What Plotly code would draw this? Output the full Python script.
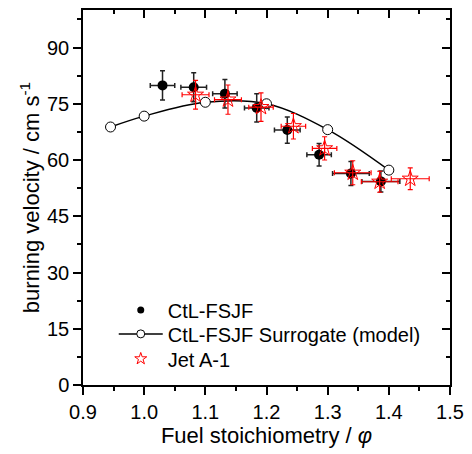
import plotly.graph_objects as go

# Data
phi_model = [0.945, 1.0, 1.1, 1.2, 1.3, 1.4]
v_model = [68.8, 71.7, 75.4, 75.0, 68.1, 57.3]

phi_ctl = [1.030, 1.081, 1.132, 1.184, 1.234, 1.286, 1.338, 1.387]
v_ctl = [79.9, 79.4, 77.7, 73.9, 68.0, 61.4, 56.4, 54.3]
ex_ctl = [0.02, 0.021, 0.02, 0.02, 0.021, 0.02, 0.03, 0.031]
ey_ctl = [3.9, 3.85, 3.8, 3.8, 3.5, 3.0, 3.2, 2.8]

phi_jet = [1.084, 1.137, 1.191, 1.244, 1.295, 1.341, 1.385, 1.435]
v_jet = [77.4, 76.1, 74.1, 69.0, 63.1, 56.6, 54.2, 55.0]
ex_jet = [0.022, 0.022, 0.02, 0.02, 0.02, 0.03, 0.03, 0.031]
ey_jet = [3.85, 3.9, 3.8, 3.4, 3.1, 3.2, 2.8, 2.9]

y_ticks = [0, 15, 30, 45, 60, 75, 90]
x_ticks = [0.9, 1.0, 1.1, 1.2, 1.3, 1.4, 1.5]

FONT = "Liberation Sans, Arial, sans-serif"

fig = go.Figure()

# model line with open circles
fig.add_trace(go.Scatter(
    x=phi_model, y=v_model, mode="lines+markers",
    line=dict(color="black", width=1.5, shape="spline", smoothing=1),
    marker=dict(symbol="circle", size=10, color="white", line=dict(color="black", width=1)),
    showlegend=False))

# CtL-FSJF measured
fig.add_trace(go.Scatter(
    x=phi_ctl, y=v_ctl, mode="markers",
    marker=dict(symbol="circle", size=10, color="black"),
    error_x=dict(type="data", array=ex_ctl, color="#222222", thickness=1.5, width=2.5),
    error_y=dict(type="data", array=ey_ctl, color="#222222", thickness=1.5, width=2.5),
    showlegend=False))

# Jet A-1
fig.add_trace(go.Scatter(
    x=phi_jet, y=v_jet, mode="markers",
    marker=dict(symbol="star-open", size=12, color="red", line=dict(color="red", width=1)),
    error_x=dict(type="data", array=ex_jet, color="red", thickness=1.2, width=2.5),
    error_y=dict(type="data", array=ey_jet, color="red", thickness=1.2, width=2.5),
    showlegend=False))

# legend entries (each in its own legend box for exact row spacing)
fig.add_trace(go.Scatter(x=[None], y=[None], mode="markers", name="CtL-FSJF", legend="legend",
                         marker=dict(symbol="circle", size=7, color="black")))
fig.add_trace(go.Scatter(x=[None], y=[None], mode="lines+markers", name="CtL-FSJF Surrogate (model)",
                         legend="legend2",
                         line=dict(color="black", width=1.5),
                         marker=dict(symbol="circle", size=8, color="white", line=dict(color="black", width=1))))
fig.add_trace(go.Scatter(x=[None], y=[None], mode="markers", name="Jet A-1", legend="legend3",
                         marker=dict(symbol="star-open", size=9, color="red", line=dict(color="red", width=1))))

# dummy trace for mirrored inner-tick axes
fig.add_trace(go.Scatter(x=[None], y=[None], xaxis="x2", yaxis="y2", showlegend=False, hoverinfo="skip"))

axis_common = dict(showgrid=False, zeroline=False, linecolor="black", linewidth=1.5,
                   tickcolor="black", tickwidth=1.5,
                   tickfont=dict(family=FONT, size=20, color="black"))

PLOT_TOP, PLOT_BOT, PLOT_L, PLOT_W = 8, 385, 83, 370
PLOT_H = PLOT_BOT - PLOT_TOP


def leg(row_center):
    return dict(x=(114 - PLOT_L) / PLOT_W, y=(PLOT_BOT - (row_center - 21)) / PLOT_H,
                xanchor="left", yanchor="top", bgcolor="rgba(0,0,0,0)", borderwidth=0,
                itemwidth=44, font=dict(family=FONT, size=20, color="black"))


fig.update_layout(
    width=472, height=454,
    margin=dict(l=PLOT_L, r=19, t=PLOT_TOP, b=454 - PLOT_BOT),
    plot_bgcolor="white", paper_bgcolor="white",
    font=dict(family=FONT, size=20, color="black"),
    xaxis=dict(range=[0.9, 1.5], tickvals=x_ticks, ticktext=[f"{v:.1f}" for v in x_ticks],
               ticks="outside", ticklen=8, showline=True, mirror=True,
               minor=dict(dtick=0.05, tick0=0.9, ticks="outside", ticklen=4, tickcolor="black", tickwidth=1.5, showgrid=False),
               title=dict(text="Fuel stoichiometry / <i>φ</i>", font=dict(family=FONT, size=22), standoff=6),
               **axis_common),
    yaxis=dict(range=[0, 100], tickvals=y_ticks, ticks="outside", ticklen=8, showline=True, mirror=True,
               minor=dict(dtick=7.5, tick0=0, ticks="outside", ticklen=4, tickcolor="black", tickwidth=1.5, showgrid=False),
               title=dict(text="burning velocity / cm s<sup>-1</sup>", font=dict(family=FONT, size=22), standoff=1),
               **axis_common),
    xaxis2=dict(range=[0.9, 1.5], overlaying="x", side="top", anchor="y", tickvals=x_ticks,
                ticks="inside", ticklen=8, showticklabels=False, showline=False,
                minor=dict(dtick=0.05, tick0=0.9, ticks="inside", ticklen=4, tickcolor="black", tickwidth=1.5, showgrid=False),
                showgrid=False, zeroline=False, tickcolor="black", tickwidth=1.5),
    yaxis2=dict(range=[0, 100], overlaying="y", side="right", anchor="x", tickvals=y_ticks,
                ticks="inside", ticklen=8, showticklabels=False, showline=False,
                minor=dict(dtick=7.5, tick0=0, ticks="inside", ticklen=4, tickcolor="black", tickwidth=1.5, showgrid=False),
                showgrid=False, zeroline=False, tickcolor="black", tickwidth=1.5),
    legend=leg(311),
    legend2=leg(335),
    legend3=leg(360),
    showlegend=True,
)

fig.write_html("out.html")
